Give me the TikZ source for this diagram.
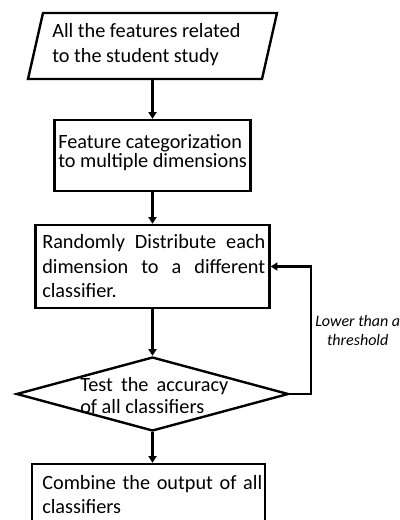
\documentclass[tikz,border=0pt]{standalone}
\usepackage{fontspec}
\setmainfont{Carlito}
\usetikzlibrary{shapes.geometric,arrows.meta}
\begin{document}
\begin{tikzpicture}[x=0.75pt,y=-0.75pt,
  box/.style={draw, line width=1.8pt, inner sep=0pt},
  txt/.style={inner sep=0pt, anchor=west, font=\fontsize{15.2}{14.6}\selectfont},
  arr/.style={line width=1.8pt, -{Triangle[length=5pt,width=6pt]}},
  lbl/.style={inner sep=0pt, align=center, font=\fontsize{12}{14.25}\selectfont\itshape}]
\useasboundingbox (0,0) rectangle (399,520);
% input parallelogram
\coordinate (p1) at (43,13);
\coordinate (p2) at (277,13);
\coordinate (p3) at (262,79);
\coordinate (p4) at (28,79);
\coordinate (inb) at (152.5,79);
\draw[line width=1.8pt, line join=miter] (p1) -- (p2) -- (p3) -- (p4) -- cycle;
\node[txt, align=left, font=\fontsize{15.2}{18.75}\selectfont] (t1) at (52,44.5) {All the features related\\to the student study};
% box 2
\node[box, minimum width=147pt, minimum height=53.25pt] (b2) at (152.5,155.5) {};
\node[txt, align=left] (t2) at (58,152.5) {Feature categorization\\to multiple dimensions};
% box 3
\node[box, minimum width=175.5pt, minimum height=62.25pt] (b3) at (152.5,266.5) {};
\node[txt, text width=167.25pt, align=justify, font=\fontsize{15.2}{18.4}\selectfont] (t3) at (42,266.5) {Randomly Distribute each\linebreak dimension to a different\linebreak classifier.};
% diamond
\node[box, diamond, minimum width=204pt, minimum height=55.5pt] (dia) at (152.5,394) {};
\node[txt, text width=111pt, align=justify, font=\fontsize{15.2}{16.5}\selectfont] (t4) at (80,396) {Test the accuracy\linebreak of all classifiers};
% box 5
\node[box, minimum width=174.75pt, minimum height=49.5pt] (b5) at (148.5,497) {};
\node[txt, text width=165pt, align=justify, font=\fontsize{15.2}{18}\selectfont] (t5) at (42,495) {Combine the output of all\linebreak classifiers};
% connectors
\draw[arr] (inb) -- (b2.north);
\draw[arr] (b2.south) -- (b3.north);
\draw[arr] (b3.south) -- (dia.north);
\draw[arr] (dia.south) -- (dia.south |- b5.north);
\coordinate (fb) at (311,394);
\draw[arr] (dia.east) -- (fb) |- (b3.east);
\node[lbl, anchor=west] (l1) at (315,331) {Lower than a\\threshold};
\end{tikzpicture}
\end{document}
